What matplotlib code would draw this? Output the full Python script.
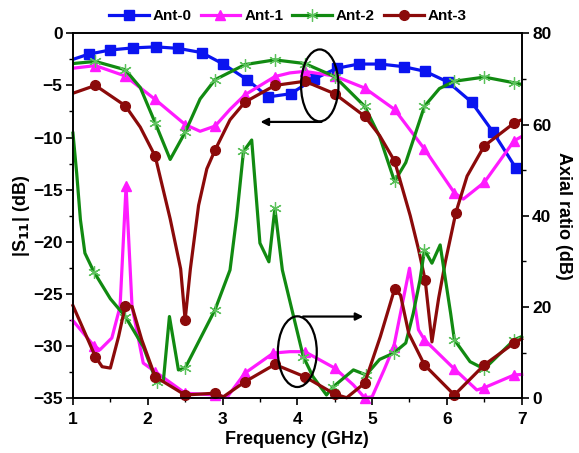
import matplotlib

matplotlib.use("Agg")
import matplotlib.pyplot as plt
from matplotlib.patches import Ellipse
from matplotlib.ticker import MultipleLocator

plt.rcParams.update(
    {
        "font.family": ["Liberation Sans", "DejaVu Sans"],
        "font.weight": "bold",
        "font.size": 11,
        "axes.linewidth": 1.2,
    }
)

# |S11| (dB) curves, left axis. m-lists give which vertices carry a marker.
s0_f = [1.0, 1.21, 1.5, 1.8, 2.11, 2.41, 2.72, 3.01, 3.33, 3.61, 3.91, 4.22, 4.53, 4.82, 5.11, 5.42, 5.71, 6.02, 6.33, 6.62, 6.92]
s0_v = [-2.5, -2.0, -1.6, -1.4, -1.3, -1.45, -1.85, -2.95, -4.45, -6.1, -5.8, -4.4, -3.35, -2.95, -2.95, -3.2, -3.65, -4.7, -6.6, -9.5, -12.9]
s0_m = list(range(1, len(s0_f)))

s1_f = [1.0, 1.3, 1.7, 2.1, 2.5, 2.7, 2.9, 3.1, 3.3, 3.7, 3.9, 4.1, 4.5, 4.9, 5.3, 5.7, 6.1, 6.22, 6.5, 6.9, 7.0]
s1_v = [-3.35, -3.1, -4.1, -6.35, -8.75, -9.4, -8.9, -7.3, -5.9, -4.15, -3.8, -3.65, -4.1, -5.25, -7.3, -11.1, -15.3, -15.9, -14.3, -10.3, -9.9]
s1_m = [1, 2, 3, 4, 6, 8, 9, 11, 12, 13, 14, 15, 16, 18, 19]

s2_f = [1.0, 1.3, 1.7, 1.9, 2.1, 2.3, 2.5, 2.7, 2.9, 3.3, 3.7, 4.1, 4.5, 4.9, 5.1, 5.3, 5.45, 5.7, 5.9, 6.1, 6.5, 6.9, 7.0]
s2_v = [-2.9, -2.7, -3.5, -5.2, -8.6, -12.1, -9.5, -6.3, -4.45, -3.0, -2.55, -2.9, -4.15, -7.0, -9.9, -14.2, -12.4, -7.0, -5.3, -4.6, -4.2, -4.75, -4.9]
s2_m = [1, 2, 4, 6, 8, 9, 10, 11, 12, 13, 15, 17, 19, 20, 21]

s3_f = [1.0, 1.3, 1.7, 1.9, 2.1, 2.3, 2.44, 2.5, 2.57, 2.68, 2.79, 2.9, 3.1, 3.3, 3.7, 4.1, 4.5, 4.9, 5.1, 5.3, 5.51, 5.62, 5.71, 5.8, 5.89, 5.98, 6.12, 6.27, 6.5, 6.9, 7.0]
s3_v = [-5.75, -5.0, -6.95, -9.0, -11.8, -17.8, -22.6, -27.5, -22.6, -16.5, -13.0, -11.2, -8.3, -6.6, -5.0, -4.6, -5.8, -7.95, -9.8, -12.25, -17.5, -20.7, -23.7, -29.6, -25.4, -21.9, -17.2, -13.7, -10.8, -8.6, -8.3]
s3_m = [1, 2, 4, 7, 11, 13, 14, 15, 16, 17, 19, 22, 26, 28, 29]

# axial ratio (dB) curves, right axis
a1_f = [1.0, 1.28, 1.36, 1.52, 1.63, 1.71, 1.79, 1.94, 2.1, 2.5, 2.9, 3.06, 3.3, 3.68, 3.9, 4.1, 4.5, 4.75, 4.9, 5.0, 5.16, 5.29, 5.5, 5.62, 5.7, 6.1, 6.4, 6.5, 6.9, 7.0]
a1_v = [17.0, 11.5, 10.6, 13.2, 20.1, 46.5, 20.1, 7.7, 5.8, 1.1, 0.7, 0.2, 5.5, 9.9, 10.2, 10.2, 6.6, 2.9, 0.1, 0.3, 6.2, 11.3, 28.5, 15.0, 12.8, 6.4, 1.8, 2.3, 5.1, 5.2]
a1_m = [1, 5, 8, 9, 10, 12, 13, 15, 16, 18, 21, 24, 25, 27, 28]

a2_f = [1.0, 1.05, 1.1, 1.16, 1.28, 1.5, 1.7, 1.94, 2.12, 2.21, 2.29, 2.41, 2.5, 2.9, 3.1, 3.19, 3.28, 3.39, 3.5, 3.62, 3.7, 3.8, 3.95, 4.08, 4.21, 4.39, 4.48, 4.75, 4.92, 5.1, 5.29, 5.45, 5.55, 5.64, 5.7, 5.8, 5.91, 6.05, 6.1, 6.31, 6.5, 6.9, 7.0]
a2_v = [58.1, 49.3, 39.1, 31.8, 27.7, 21.8, 17.9, 11.3, 3.5, 4.0, 17.9, 6.2, 6.6, 19.4, 28.1, 39.8, 54.1, 56.6, 34.0, 29.9, 41.6, 28.1, 17.9, 9.1, 4.7, 0.7, 2.5, 6.2, 5.1, 8.5, 9.9, 12.1, 18.6, 25.9, 32.5, 29.6, 33.6, 18.6, 12.8, 8.0, 6.4, 12.8, 13.5]
a2_m = [4, 6, 8, 12, 13, 16, 20, 23, 26, 28, 30, 34, 38, 40, 41]

a3_f = [1.0, 1.3, 1.39, 1.5, 1.61, 1.7, 1.79, 1.92, 2.1, 2.5, 2.9, 3.01, 3.3, 3.7, 4.1, 4.5, 4.66, 4.9, 5.11, 5.3, 5.38, 5.49, 5.7, 6.1, 6.5, 6.9, 7.0]
a3_v = [20.3, 9.1, 6.9, 6.6, 13.5, 20.3, 20.1, 12.8, 4.7, 0.7, 1.1, 0.3, 3.6, 7.4, 4.7, 0.9, 0.1, 3.3, 13.5, 23.9, 22.6, 14.2, 7.3, 0.7, 7.3, 12.1, 13.0]
a3_m = [1, 5, 8, 9, 10, 12, 13, 14, 15, 17, 19, 22, 23, 24, 25]

labels = ["Ant-0", "Ant-1", "Ant-2", "Ant-3"]

BLUE = "#0a14f0"
MAG = "#ff1aff"
GREEN = "#118a11"
RED = "#8b0a0a"

fig = plt.figure(figsize=(5.79, 4.53), dpi=100)
ax = fig.add_axes([0.126, 0.121, 0.775, 0.8055])
ax2 = ax.twinx()

lw = 2.3
star = dict(marker=(6, 2, 0), ms=9, mec="#5cc25c", mfc="#5cc25c", mew=0.9)

h0, = ax.plot(s0_f, s0_v, color=BLUE, lw=lw, marker="s", ms=6.5, markevery=s0_m)
h1, = ax.plot(s1_f, s1_v, color=MAG, lw=lw, marker="^", ms=7.5, markevery=s1_m)
h2, = ax.plot(s2_f, s2_v, color=GREEN, lw=lw, markevery=s2_m, **star)
h3, = ax.plot(s3_f, s3_v, color=RED, lw=lw, marker="o", ms=7, markevery=s3_m)

ax2.plot(a1_f, a1_v, color=MAG, lw=lw, marker="^", ms=7.5, markevery=a1_m, clip_on=False)
ax2.plot(a2_f, a2_v, color=GREEN, lw=lw, markevery=a2_m, clip_on=False, **star)
ax2.plot(a3_f, a3_v, color=RED, lw=lw, marker="o", ms=7, markevery=a3_m, clip_on=False)

ax.set_xlim(1, 7)
ax.set_ylim(-35, 0)
ax2.set_ylim(0, 80)
ax.xaxis.set_major_locator(MultipleLocator(1))
ax.xaxis.set_minor_locator(MultipleLocator(0.5))
ax.yaxis.set_major_locator(MultipleLocator(5))
ax.yaxis.set_minor_locator(MultipleLocator(2.5))
ax2.yaxis.set_major_locator(MultipleLocator(20))
ax2.yaxis.set_minor_locator(MultipleLocator(10))

for a in (ax, ax2):
    a.tick_params(which="major", direction="out", length=5, width=1.2, labelsize=12.5)
    a.tick_params(which="minor", direction="out", length=3, width=1.0)
ax.tick_params(axis="x", which="both", top=False)
ax.tick_params(axis="x", pad=5)
ax.tick_params(axis="y", pad=2.5)
ax2.tick_params(axis="y", pad=2.5)

ax.set_xlabel("Frequency (GHz)", fontsize=13, fontweight="bold", labelpad=3)
ax.set_ylabel("|S$_{\\mathbf{11}}$| (dB)", fontsize=13, fontweight="bold", labelpad=1)
ax2.set_ylabel("Axial ratio (dB)", fontsize=13, fontweight="bold", rotation=270, labelpad=15)

# callouts: ellipse + arrow pointing at the axis each group belongs to
ax.add_patch(Ellipse((4.30, -5.0), 0.5, 6.9, fill=False, ec="black", lw=1.6, zorder=5))
ax.annotate("", xy=(3.47, -8.5), xytext=(4.36, -8.5),
            arrowprops=dict(arrowstyle="-|>", color="black", lw=1.6, mutation_scale=11), zorder=5)
ax2.add_patch(Ellipse((4.0, 10.2), 0.52, 15.5, fill=False, ec="black", lw=1.6, zorder=5))
ax2.annotate("", xy=(4.92, 17.9), xytext=(4.04, 17.9),
             arrowprops=dict(arrowstyle="-|>", color="black", lw=1.6, mutation_scale=11), zorder=5)

fig.legend([h0, h1, h2, h3], labels, loc="upper center", bbox_to_anchor=(0.497, 1.01),
           ncol=4, frameon=False, handlelength=2.6, handletextpad=0.25, columnspacing=0.6,
           prop={"weight": "bold", "size": 11})

fig.savefig("out.png", dpi=100)
